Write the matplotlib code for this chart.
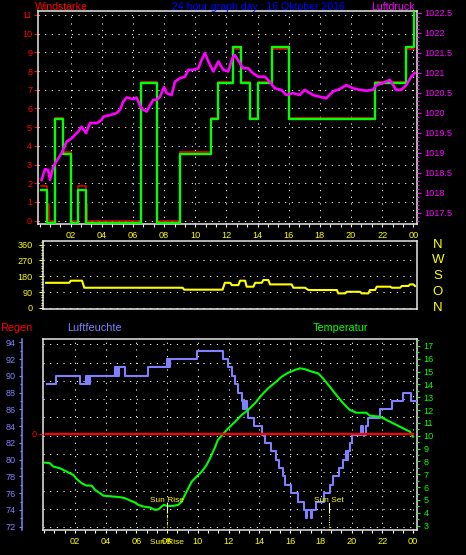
import numpy as np
import matplotlib
matplotlib.use("Agg")
import matplotlib.pyplot as plt
from matplotlib.ticker import FixedLocator, MultipleLocator
from matplotlib.transforms import blended_transform_factory, offset_copy

# ---------------------------------------------------------------- data
hour_ticks = [2, 4, 6, 8, 10, 12, 14, 16, 18, 20, 22, 24]
hour_labels = ["02", "04", "06", "08", "10", "12", "14", "16", "18", "20", "22", "00"]

# wind (Windstaerke), step series
gust_hours = [0.09, 0.45, 0.99, 1.52, 2.00, 2.49, 2.98, 6.51, 7.52, 9.02, 11.00,
              11.48, 12.42, 12.96, 13.49, 14.03, 14.95, 16.02, 21.56, 23.51, 24.05]
gust = [1.8, 0, 5.6, 3.7, 0, 1.8, 0, 7.5, 0, 3.7, 5.6,
        7.5, 9.4, 7.5, 5.6, 7.5, 9.4, 5.6, 7.5, 9.4, 11.3]
wind_hours = [0.09, 0.45, 0.58, 0.99, 1.52, 2.00, 2.49, 2.98, 3.06, 6.51, 7.52, 9.02,
              11.00, 11.48, 12.42, 12.96, 13.49, 14.03, 14.95, 16.02, 21.56, 23.51, 24.05]
wind = [1.85, 0.9, 0, 5.5, 3.65, 0, 1.85, 0.9, 0, 7.4, 0, 3.65,
        5.5, 7.4, 9.2, 7.4, 5.5, 7.4, 9.2, 5.5, 7.4, 9.2, 9.2]

# pressure (Luftdruck, hPa)
p_hours = [0.13, 0.35, 0.55, 0.67, 0.88, 1.2, 1.42, 1.74, 2.06, 2.49, 2.7, 2.98, 3.24,
           3.67, 3.99, 4.09, 4.52, 4.95, 5.16, 5.38, 5.59, 6.02, 6.24, 6.45, 6.66, 6.88,
           7.09, 7.3, 7.52, 7.73, 8.0, 8.16, 8.48, 8.7, 9.02, 9.34, 9.55, 9.87, 10.2,
           10.41, 10.62, 10.84, 11.16, 11.48, 11.8, 12.12, 12.38, 12.53, 12.74, 13.06,
           13.39, 13.7, 14.03, 14.46, 14.78, 15.1, 15.52, 15.85, 16.28, 16.7, 17.03,
           17.56, 17.99, 18.41, 18.84, 19.27, 19.7, 20.13, 20.56, 20.98, 21.41, 21.63,
           22.06, 22.49, 22.9, 23.23, 23.55, 23.87, 24.09]
pressure = [1018.32, 1018.59, 1018.57, 1018.32, 1018.65, 1018.86, 1018.99, 1019.28,
            1019.36, 1019.53, 1019.65, 1019.49, 1019.74, 1019.74, 1019.82, 1019.90,
            1019.94, 1019.99, 1020.07, 1020.28, 1020.38, 1020.34, 1020.38, 1020.17,
            1020.07, 1020.03, 1020.19, 1020.32, 1020.32, 1020.40, 1020.64, 1020.49,
            1020.44, 1020.78, 1020.86, 1020.90, 1021.07, 1021.07, 1021.11, 1021.32,
            1021.49, 1021.28, 1021.03, 1021.28, 1021.07, 1021.03, 1021.36, 1021.44,
            1021.32, 1021.11, 1021.11, 1020.99, 1020.90, 1020.90, 1020.78, 1020.61,
            1020.57, 1020.44, 1020.49, 1020.44, 1020.57, 1020.44, 1020.40, 1020.36,
            1020.53, 1020.59, 1020.69, 1020.61, 1020.57, 1020.55, 1020.57, 1020.69,
            1020.74, 1020.82, 1020.57, 1020.57, 1020.69, 1020.90, 1020.99]
p_ticks = [1017.5, 1018, 1018.5, 1019, 1019.5, 1020, 1020.5, 1021, 1021.5, 1022, 1022.5]
p_labels = ["1017.5", "1018", "1018.5", "1019", "1019.5", "1020",
            "1020.5", "1021", "1021.5", "1022", "1022.5"]

# wind direction (degrees)
dir_hours = [0.11, 1.62, 1.72, 2.45, 2.6, 9.0, 9.1, 11.6, 11.75, 12.1, 12.2, 12.63,
             12.74, 13.07, 13.17, 13.61, 13.72, 14.15, 14.26, 14.58, 14.69, 16.1,
             16.21, 16.97, 17.19, 19.04, 19.14, 19.58, 19.69, 20.55, 20.66, 21.09,
             21.2, 21.53, 21.64, 22.51, 22.62, 23.16, 23.27, 23.7, 23.81, 24.02, 24.13]
direction = [143, 143, 155, 155, 115, 115, 104, 104, 143, 143, 130, 130,
             155, 155, 121, 121, 143, 143, 159, 159, 134, 134,
             115, 115, 102, 102, 83, 83, 92, 92, 83, 83,
             102, 102, 121, 121, 115, 115, 125, 125, 134, 134, 125]
dir_ticks = [0, 90, 180, 270, 360]
dir_letters = ["N", "O", "S", "W", "N"]

# humidity (Luftfeuchte, %), step series
hum_hours = [0.16, 0.76, 2.32, 2.72, 2.78, 2.84, 2.90, 2.96,
             4.60, 4.66, 4.72, 4.78, 4.84, 5.25,
             6.77, 7.97, 8.03, 8.09, 8.15, 8.21,
             9.96, 11.65, 11.94, 12.2, 12.42, 12.63, 12.85,
             12.92, 12.99, 13.06, 13.13, 13.2, 13.28,
             13.67, 14.15, 14.39, 14.78, 15.10, 15.28, 15.54, 15.65,
             16.08, 16.52, 16.89, 17.02, 17.13, 17.38, 17.45, 17.71,
             18.19, 18.58, 18.80, 19.19, 19.45, 19.66, 19.72, 19.78,
             19.88, 20.05, 20.64, 20.72, 20.96, 21.05, 21.84, 22.66,
             23.35, 23.89, 24.18]
humidity = [89, 90, 89, 90, 89, 90, 89, 90,
            91, 90, 91, 90, 91, 90,
            91, 92, 91, 92, 91, 92,
            93, 92, 91, 90, 89, 88, 87,
            86, 87, 86, 87, 86, 85,
            84, 83, 82, 81, 80, 79, 78, 77,
            76, 75, 74, 73, 74, 73, 74, 75,
            76, 77, 78, 79, 80, 81, 80, 81,
            82, 83, 84, 83, 84, 85, 86, 87,
            88, 87, 87]
hum_ticks = [72, 74, 76, 78, 80, 82, 84, 86, 88, 90, 92, 94]

# temperature (deg C)
t_hours = [0.05, 0.37, 0.59, 1.02, 1.46, 1.89, 2.11, 2.43, 2.76, 3.09, 3.3, 3.63, 3.84,
           4.28, 4.93, 5.25, 5.58, 5.91, 6.12, 6.45, 6.88, 7.21, 7.42, 7.64, 7.79, 7.97,
           8.4, 8.72, 8.95, 9.16, 9.38, 9.6, 9.92, 10.25, 10.57, 10.79, 11.11, 11.3,
           11.65, 11.98, 12.42, 12.85, 13.28, 13.72, 14.15, 14.58, 15.02, 15.46, 15.89,
           16.32, 16.65, 16.97, 17.41, 17.82, 18.14, 18.58, 19.01, 19.45, 19.88, 20.31,
           20.96, 21.18, 21.84, 22.27, 22.7, 23.35, 23.79, 24.0]
temperature = [7.91, 7.86, 7.6, 7.47, 7.21, 6.95, 6.64, 6.31, 6.12, 6.12, 5.79, 5.53,
               5.34, 5.29, 5.22, 5.14, 4.96, 4.8, 4.62, 4.49, 4.41, 4.23, 4.26, 4.49,
               4.62, 4.54, 4.54, 4.62, 4.87, 5.4, 5.92, 6.43, 6.82, 7.21, 7.73, 8.25,
               9.1, 9.68, 10.16, 10.59, 11.1, 11.63, 12.02, 12.54, 13.18, 13.71, 14.14,
               14.61, 14.92, 15.13, 15.26, 15.19, 15.0, 14.87, 14.48, 13.83, 13.18,
               12.54, 12.02, 11.8, 11.8, 11.57, 11.49, 11.24, 10.98, 10.59, 10.33, 9.94]
temp_ticks = list(range(3, 18))

# rain (Regen)
rain_hours = [0.11, 24.0]
rain = [0, 0]

sun_rise = 7.97
sun_set = 18.55

# ---------------------------------------------------------------- style
NARROW = ["Liberation Sans Narrow", "Liberation Sans", "DejaVu Sans"]
SANS = ["Liberation Sans", "DejaVu Sans"]
plt.rcParams["font.family"] = NARROW
plt.rcParams["font.size"] = 6.6
plt.rcParams["lines.scale_dashes"] = False

RED, GREEN, YELLOW = "#ff0000", "#00ff00", "#ffff00"
MAGENTA, BLUE, LAVENDER = "#ff00ff", "#0000ff", "#8080ff"
FRAME = "#e6e6e6"
DOTS = (0, (0.8, 4.0))

W, H = 466, 555


def box(x0, y0, x1, y1):
    return [x0 / W, 1 - y1 / H, (x1 - x0) / W, (y1 - y0) / H]


def at(x, y):
    return x / W, 1 - y / H


def frame(ax):
    ax.set_facecolor("black")
    for s in ax.spines.values():
        s.set_color(FRAME)
        s.set_linewidth(1.1)


def bare(ax):
    for s in ax.spines.values():
        s.set_visible(False)


def grid_h(ax, ys, x0, x1, **kw):
    ax.hlines(ys, x0, x1, colors="white", linewidths=0.75, linestyles=DOTS, zorder=0, **kw)


def grid_v(ax, xs, y0, y1):
    ax.vlines(xs, y0, y1, colors="white", linewidths=0.75, linestyles=DOTS, zorder=0)


fig = plt.figure(figsize=(W / 100, H / 100), dpi=100, facecolor="black")

# ---------------------------------------------------------------- top: wind + pressure
ax1 = fig.add_axes(box(38, 11, 417, 224))
frame(ax1)
xl1, yl1 = (-0.10, 24.24), (-0.18, 11.21)
ax1.set_xlim(*xl1)
ax1.set_ylim(*yl1)
grid_h(ax1, range(0, 12), *xl1)
grid_v(ax1, hour_ticks, *yl1)

ax1.step(wind_hours, wind, where="post", color=RED, lw=1.1, zorder=2)
ax1.step(gust_hours, gust, where="post", color=GREEN, lw=1.7, zorder=3,
         transform=offset_copy(ax1.transData, fig=fig, x=0, y=-2.6, units="dots"))

ax1.set_yticks(range(0, 12))
ax1.tick_params(axis="y", colors=RED, length=2.6, width=0.8, pad=1.6)
ax1.set_xticks(hour_ticks, hour_labels)
ax1.xaxis.set_minor_locator(FixedLocator(np.arange(0, 24.01, 2 / 3)))
ax1.tick_params(axis="x", which="both", colors="white", labelcolor=YELLOW,
                length=2.0, width=0.8, pad=2.8)

ax1p = ax1.twinx()
bare(ax1p)
ax1p.set_ylim(1017.22, 1022.54)
ax1p.plot(p_hours, pressure, color=MAGENTA, lw=1.9)
ax1p.set_yticks(p_ticks, p_labels)
ax1p.yaxis.set_minor_locator(MultipleLocator(0.1))
ax1p.tick_params(axis="y", which="major", colors=MAGENTA, length=3.0, width=0.8, pad=2.4)
ax1p.tick_params(axis="y", which="minor", colors=MAGENTA, length=1.6, width=0.8)

fig.text(*at(35, 9.5), "Windstärke", color=RED, fontsize=7.6, family=SANS, va="baseline")
fig.text(*at(172, 9.5), "24 hour graph day : 16 Oktober 2016", color=BLUE,
         fontsize=7.6, family=SANS, va="baseline")
fig.text(*at(415, 9.5), "Luftdruck", color=MAGENTA, fontsize=7.6, family=SANS,
         va="baseline", ha="right")

# ---------------------------------------------------------------- middle: wind direction
ax2 = fig.add_axes(box(43.3, 241, 416.7, 309.3))
frame(ax2)
xl2, yl2 = (-0.07, 24.24), (-7.4, 380.4)
ax2.set_xlim(*xl2)
ax2.set_ylim(*yl2)
grid_h(ax2, dir_ticks, *xl2)
ax2.plot(dir_hours, direction, color=YELLOW, lw=1.5, zorder=3)
ax2.set_xticks([])
ax2.set_yticks(dir_ticks)
ax2.yaxis.set_minor_locator(MultipleLocator(15))
ax2.tick_params(axis="y", which="major", colors=YELLOW, length=2.9, width=0.8, pad=4.6)
ax2.tick_params(axis="y", which="minor", colors=YELLOW, length=1.5, width=0.8)
lt = blended_transform_factory(ax2.transAxes, ax2.transData)
for d, letter in zip(dir_ticks, dir_letters):
    ax2.text(1.057, d, letter, transform=lt, ha="center", va="center",
             color=YELLOW, fontsize=9.5)

# ---------------------------------------------------------------- bottom: humidity, temperature, rain
ax3 = fig.add_axes(box(42.7, 339.3, 417.3, 530))
frame(ax3)
xl3 = (-0.10, 24.28)
ax3.set_xlim(*xl3)
ax3.set_ylim(0, 1)
ax3.set_yticks([])
grid_h(ax3, np.linspace(0.0142, 0.9738, 11), 0, 1, transform=ax3.transAxes)
grid_v(ax3, hour_ticks, 0, 1)
ax3.set_xticks(hour_ticks, hour_labels)
ax3.xaxis.set_minor_locator(FixedLocator(np.arange(0, 24.01, 2 / 3)))
ax3.tick_params(axis="x", which="both", colors="white", labelcolor=YELLOW,
                length=2.0, width=0.8, pad=3.2)

ax3h = ax3.twinx()
bare(ax3h)
ax3h.yaxis.tick_left()
ax3h.spines["left"].set_visible(True)
ax3h.spines["left"].set_position(("outward", 15.1))
ax3h.spines["left"].set_color(LAVENDER)
ax3h.spines["left"].set_linewidth(1.1)
ax3h.set_ylim(71.61, 94.36)
ax3h.step(hum_hours, humidity, where="post", color=LAVENDER, lw=1.5)
ax3h.set_yticks(hum_ticks)
ax3h.yaxis.set_minor_locator(MultipleLocator(1))
ax3h.tick_params(axis="y", which="major", colors=LAVENDER, length=2.4, width=0.8, pad=2.0)
ax3h.tick_params(axis="y", which="minor", colors=LAVENDER, length=1.2, width=0.8)

ax3t = ax3.twinx()
bare(ax3t)
ax3t.set_ylim(2.66, 17.52)
ax3t.plot(t_hours, temperature, color=GREEN, lw=1.5)
ax3t.set_yticks(temp_ticks)
ax3t.yaxis.set_minor_locator(MultipleLocator(0.5))
ax3t.tick_params(axis="y", which="major", colors=GREEN, length=2.4, width=0.8, pad=2.2)
ax3t.tick_params(axis="y", which="minor", colors=GREEN, length=1.2, width=0.8)

ax3r = ax3.twinx()
bare(ax3r)
ax3r.yaxis.tick_left()
ax3r.set_ylim(-0.506, 0.494)
ax3r.plot(rain_hours, rain, color=RED, lw=1.6)
ax3r.set_yticks([0])
ax3r.tick_params(axis="y", colors=RED, length=3.2, width=0.8, pad=1.4)

st = blended_transform_factory(ax3r.transData, ax3r.transAxes)
for h, name in [(sun_rise, "Sun Rise"), (sun_set, "Sun Set")]:
    ax3r.text(h, 0.149, name, transform=st, ha="center", va="baseline",
              color=YELLOW, fontsize=6, family=SANS)
    ax3r.plot([h, h], [0.14, 0.093], transform=st, color="white", lw=0.8)
    ax3r.plot([h, h], [0.093, 0.0], transform=st, color=YELLOW, lw=0.8,
              ls=(0, (0.8, 0.9)))
# the original prints the sunrise name once more on the hour row, over "08"
ax3r.text(sun_rise, -0.075, "Sun Rise", transform=st, ha="center", va="baseline",
          color=YELLOW, fontsize=6, family=SANS, clip_on=False)

fig.text(*at(0, 331), "Regen", color=RED, fontsize=7.8, family=SANS, va="baseline")
fig.text(*at(67, 331), "Luftfeuchte", color=LAVENDER, fontsize=7.8, family=SANS,
         va="baseline")
fig.text(*at(313, 331), "Temperatur", color=GREEN, fontsize=7.8, family=SANS,
         va="baseline")

fig.savefig("out.png", dpi=100, facecolor="black")
